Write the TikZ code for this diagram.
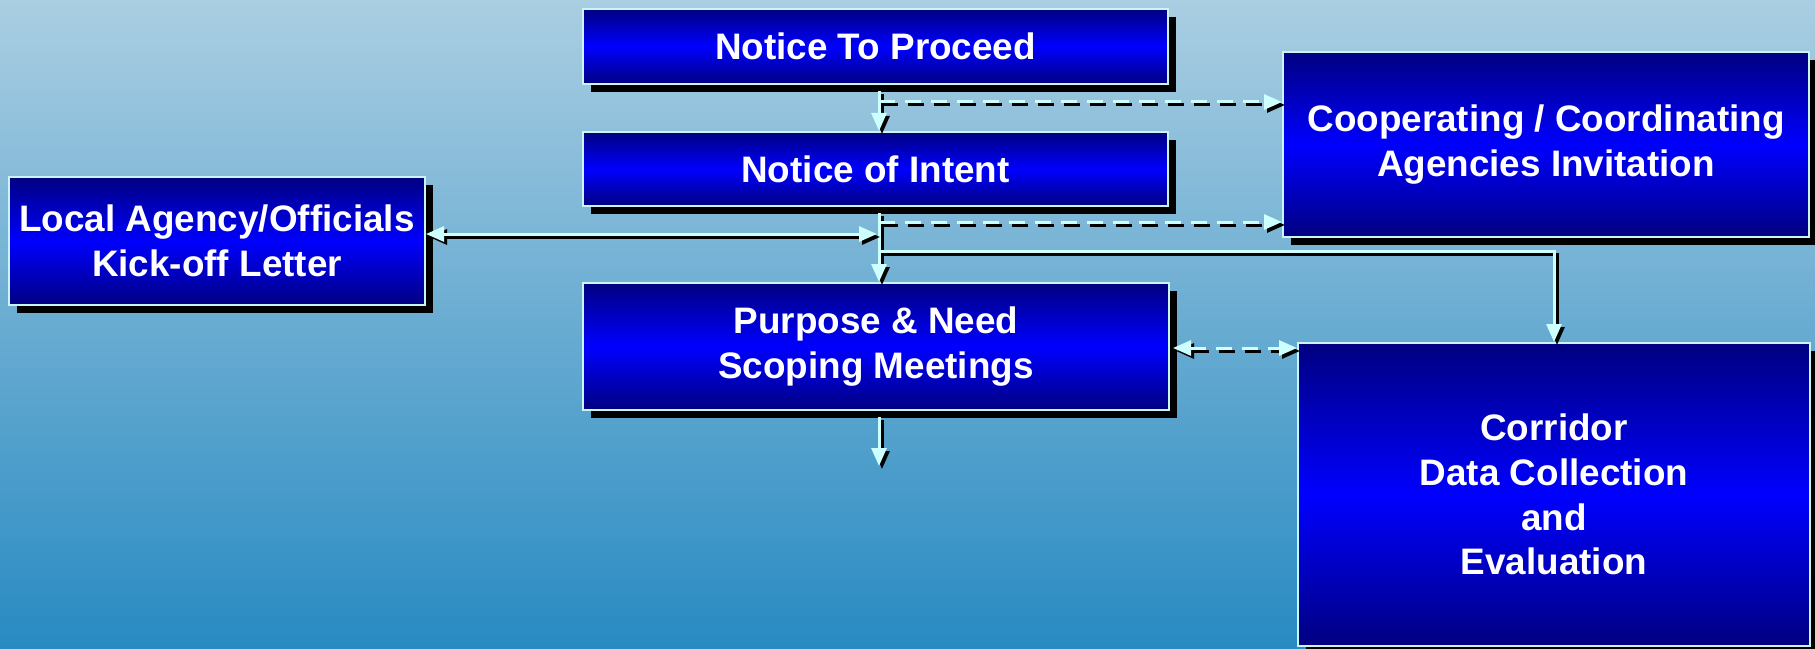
\documentclass[tikz,border=0pt]{standalone}
\usepackage{fontspec}
\setmainfont{Liberation Sans}
\usetikzlibrary{arrows.meta,shadows}
\definecolor{bgtop}{RGB}{170,206,226}
\definecolor{bgbot}{RGB}{40,138,194}
\definecolor{boxdark}{RGB}{0,0,128}
\definecolor{boxlight}{RGB}{0,0,255}
\definecolor{boxline}{RGB}{200,245,245}
\definecolor{lcyan}{RGB}{205,255,255}
\tikzset{
  box/.style={draw=boxline, line width=2bp, anchor=north west, inner sep=0pt,
    top color=boxdark, bottom color=boxdark, middle color=boxlight,
    text=white, align=center,
    font=\fontsize{37}{45}\selectfont\bfseries,
    drop shadow={shadow xshift=8bp, shadow yshift=-8bp, fill=black, opacity=1}},
  tipA/.tip={Triangle[length=18bp,width=15bp]},
  shd/.style={draw=black, line width=3bp, transform canvas={shift={(3bp,-3bp)}}},
  conn/.style={draw=lcyan, line width=3bp, -tipA,
    preaction={shd}},
  dconn/.style={draw=lcyan, line width=3bp, -tipA, dash pattern=on 16bp off 10bp,
    preaction={shd, dash pattern=on 16bp off 10bp}},
  dbl/.style={conn, tipA-tipA},
  ddbl/.style={dconn, tipA-tipA},
}
\begin{document}
\begin{tikzpicture}[x=1bp,y=-1bp]
\useasboundingbox (0,0) rectangle (1815,649);
\shade[top color=bgtop, bottom color=bgbot] (0,0) rectangle (1815,649);

\node[box, minimum width=585bp, minimum height=75bp] (ntp) at (582,8) {Notice To Proceed};
\node[box, minimum width=585bp, minimum height=74bp] (noi) at (582,131) {Notice of Intent};
\node[box, minimum width=416bp, minimum height=128bp] (local) at (8,176) {Local Agency/Officials\\Kick-off Letter};
\node[box, minimum width=586bp, minimum height=127bp] (pn) at (582,282) {Purpose \& Need\\Scoping Meetings};
\node[box, minimum width=526bp, minimum height=185bp] (coop) at (1282,51) {Cooperating / Coordinating\\Agencies Invitation};
\node[box, minimum width=512bp, minimum height=303bp] (corr) at (1297,342) {Corridor\\Data Collection\\and\\Evaluation};

\coordinate (a0) at (879,91);
\coordinate (d1) at (879,102);
\coordinate (a1) at (879,213);
\coordinate (d2) at (879,222);
\coordinate (h1) at (877,234);
\coordinate (s1) at (879,251);
\coordinate (p1) at (1240,348);
\coordinate (a2) at (879,417);
\coordinate (a3) at (879,466);

\draw[conn] (a0) -- (noi.north -| a0);
\draw[dconn] (d1) -- (d1 -| coop.west);
\draw[conn] (a1) -- (pn.north -| a1);
\draw[dconn] (d2) -- (d2 -| coop.west);
\draw[dbl] (h1 -| local.east) -- (h1);
\draw[conn] (s1) -| (corr.north);
\draw[ddbl] ([xshift=3bp]pn.east |- p1) -- (p1 -| corr.west);
\draw[conn] (a2) -- (a3);
\end{tikzpicture}
\end{document}
